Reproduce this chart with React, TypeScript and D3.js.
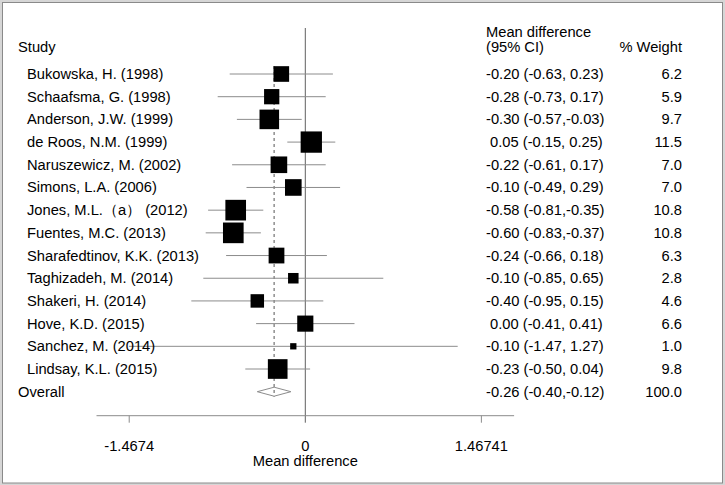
import React from "react";
import * as d3 from "d3";

const studies = [
  "Bukowska, H. (1998)",
  "Schaafsma, G. (1998)",
  "Anderson, J.W. (1999)",
  "de Roos, N.M. (1999)",
  "Naruszewicz, M. (2002)",
  "Simons, L.A. (2006)",
  "Jones, M.L.（a） (2012)",
  "Fuentes, M.C. (2013)",
  "Sharafedtinov, K.K. (2013)",
  "Taghizadeh, M. (2014)",
  "Shakeri, H. (2014)",
  "Hove, K.D. (2015)",
  "Sanchez, M. (2014)",
  "Lindsay, K.L. (2015)",
];
const estimates = [-0.2, -0.28, -0.3, 0.05, -0.22, -0.1, -0.58, -0.6, -0.24, -0.1, -0.4, 0.0, -0.1, -0.23];
const lowers = [-0.63, -0.73, -0.57, -0.15, -0.61, -0.49, -0.81, -0.83, -0.66, -0.85, -0.95, -0.41, -1.47, -0.5];
const uppers = [0.23, 0.17, -0.03, 0.25, 0.17, 0.29, -0.35, -0.37, 0.18, 0.65, 0.15, 0.41, 1.27, 0.04];
const weights = [6.2, 5.9, 9.7, 11.5, 7.0, 7.0, 10.8, 10.8, 6.3, 2.8, 4.6, 6.6, 1.0, 9.8];
const overall = { est: -0.26, lo: -0.4, hi: -0.12, weight: 100.0 };
const tickValues = [-1.4674, 0, 1.46741];
const tickLabels = ["-1.4674", "0", "1.46741"];

const fmt = (v: number) => (v < 0 ? "" : " ") + v.toFixed(2);
const ciText = (e: number, l: number, u: number) =>
  `${fmt(e)} (${l.toFixed(2)},${u < 0 ? "" : " "}${u.toFixed(2)})`;

export default function App() {
  const W = 725, H = 485;
  const x = d3.scaleLinear().domain([-1.74, 1.74]).range([96.5, 514.1]);
  const rows = studies.length + 1;
  const y = d3.scaleLinear().domain([0, rows - 1]).range([74, 391.7]);
  const size = d3.scaleSqrt().domain([0, 11.5]).range([0, 21.3]);
  const font = "Liberation Sans, Arial, sans-serif";
  const fs = 14.7;
  const axisY = 415.7;
  const x0 = x(0);
  const diamond = d3.line()([
    [x(overall.lo), y(rows - 1)],
    [x(overall.est), y(rows - 1) - 4.5],
    [x(overall.hi), y(rows - 1)],
    [x(overall.est), y(rows - 1) + 4.5],
    [x(overall.lo), y(rows - 1)],
  ]);
  return (
    <svg width={W} height={H} style={{ position: "absolute", left: 0, top: 0 }} fontFamily={font} fontSize={fs}>
      <rect x={0} y={0} width={W} height={H} fill="#d6d6d6" />
      <rect x={2.5} y={2.5} width={720} height={480.5} fill="#fff" stroke="#8a8a8a" strokeWidth={1} />
      {/* headers */}
      <text x={18} y={46.7} dominantBaseline="central">Study</text>
      <text x={486} y={31.7} dominantBaseline="central">Mean difference</text>
      <text x={486} y={46.7} dominantBaseline="central">(95% CI)</text>
      <text x={682} y={46.7} dominantBaseline="central" textAnchor="end">% Weight</text>
      {/* zero line */}
      <line x1={x0} x2={x0} y1={28} y2={axisY + 7} stroke="#606060" strokeWidth={1} />
      {/* overall dashed line */}
      <line x1={x(overall.est)} x2={x(overall.est)} y1={y(0) - 8} y2={y(rows - 1) + 5} stroke="#555" strokeWidth={1} strokeDasharray="3,3" />
      {studies.map((s, i) => {
        const cy = y(i);
        const sz = size(weights[i]);
        return (
          <g key={s}>
            <line x1={x(lowers[i])} x2={x(uppers[i])} y1={cy} y2={cy} stroke="#8c8c8c" strokeWidth={1} />
            <rect x={x(estimates[i]) - sz / 2} y={cy - sz / 2} width={sz} height={sz} fill="#000" />
            <text x={27} y={cy} dominantBaseline="central">{s}</text>
            <text x={486} y={cy} dominantBaseline="central" style={{ whiteSpace: "pre" }}>
              {ciText(estimates[i], lowers[i], uppers[i])}
            </text>
            <text x={682} y={cy} dominantBaseline="central" textAnchor="end">{weights[i].toFixed(1)}</text>
          </g>
        );
      })}
      <text x={18} y={y(rows - 1)} dominantBaseline="central">Overall</text>
      <path d={diamond ?? ""} fill="none" stroke="#8c8c8c" strokeWidth={1} />
      <text x={486} y={y(rows - 1)} dominantBaseline="central" style={{ whiteSpace: "pre" }}>
        {ciText(overall.est, overall.lo, overall.hi)}
      </text>
      <text x={682} y={y(rows - 1)} dominantBaseline="central" textAnchor="end">{overall.weight.toFixed(1)}</text>
      {/* axis */}
      <line x1={x.range()[0]} x2={x.range()[1]} y1={axisY} y2={axisY} stroke="#8c8c8c" strokeWidth={1} />
      {tickValues.map((t, i) => (
        <g key={i}>
          {t !== 0 && <line x1={x(t)} x2={x(t)} y1={axisY} y2={axisY + 7} stroke="#8c8c8c" />}
          <text x={x(t)} y={450.5} textAnchor="middle">{tickLabels[i]}</text>
        </g>
      ))}
      <text x={x0} y={466} textAnchor="middle">Mean difference</text>
    </svg>
  );
}
